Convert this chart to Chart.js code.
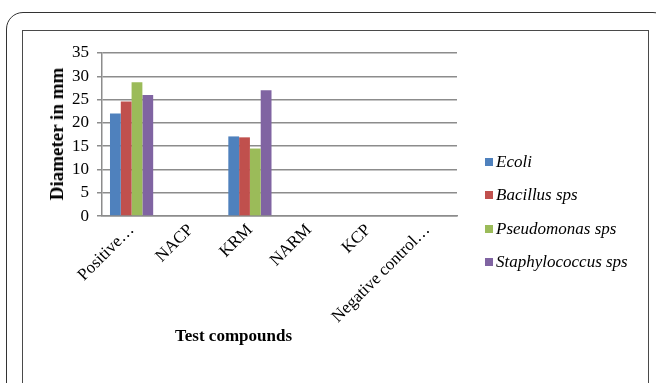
<!DOCTYPE html>
<html>
<head>
<meta charset="utf-8">
<script src="https://cdn.jsdelivr.net/npm/chart.js@4.4.0/dist/chart.umd.min.js"></script>
<style>
    html, body { margin: 0; padding: 0; background: #fff; width: 656px; height: 383px; overflow: hidden; }
    body { position: relative; font-family: "Liberation Serif", "Times New Roman", serif; }
    #frame { position: absolute; left: 6px; top: 12px; width: 664px; height: 420px; border: 1.5px solid #333; border-radius: 17px; box-sizing: border-box; }
    #panel { position: absolute; left: 22px; top: 30px; width: 627px; height: 400px; border: 1.5px solid #4a4a4a; box-sizing: border-box; }
    #chartBox { position: absolute; left: 23px; top: 31px; width: 624px; height: 352px; }
    #xTitle { position: absolute; left: 175px; top: 326px; font-weight: bold; font-size: 17px; color: #000; white-space: nowrap; }
    #yTitle { position: absolute; left: 57px; top: 134px; width: 0; height: 0; }
    #yTitle span { position: absolute; transform: translate(-50%, -50%) rotate(-90deg); font-weight: bold; font-size: 19px; color: #000; white-space: nowrap; }
    #legend { position: absolute; left: 485px; top: 145px; }
    .item { height: 33.5px; display: flex; align-items: center; font-style: italic; font-size: 17px; color: #000; white-space: nowrap; }
    .swatch { width: 8px; height: 8px; margin-right: 3px; }
</style>
</head>
<body>
<div id="frame"></div>
<div id="panel"></div>
<div id="chartBox"><canvas id="zoneChart" width="624" height="352"></canvas></div>
<div id="yTitle"><span>Diameter in mm</span></div>
<div id="xTitle">Test compounds</div>
<div id="legend"></div>

<script>
// Zone of inhibition per test compound
const compounds = ['Positive…', 'NACP', 'KRM', 'NARM', 'KCP', 'Negative control…'];
const ecoli = [22, 0, 17.1, 0, 0, 0];
const bacillus = [24.6, 0, 16.9, 0, 0, 0];
const pseudomonas = [28.7, 0, 14.5, 0, 0, 0];
const staphylococcus = [26, 0, 27, 0, 0, 0];

const seriesNames = ['Ecoli', 'Bacillus sps', 'Pseudomonas sps', 'Staphylococcus sps'];
const seriesColors = ['#4f81bd', '#c0504d', '#9bbb59', '#8064a2'];
const seriesValues = [ecoli, bacillus, pseudomonas, staphylococcus];

// y axis runs 0..35 in steps of 5
const yMin = 0;
const yMax = 35;
const yStep = 5;

const serif = "'Liberation Serif', 'Times New Roman', serif";
const gridGray = '#8c8c8c';

Chart.defaults.font.family = serif;
Chart.defaults.color = '#000';

function buildLegend() {
    const box = document.getElementById('legend');
    seriesNames.forEach((name, i) => {
        const row = document.createElement('div');
        row.className = 'item';
        const sw = document.createElement('span');
        sw.className = 'swatch';
        sw.style.background = seriesColors[i];
        row.appendChild(sw);
        row.appendChild(document.createTextNode(name));
        box.appendChild(row);
    });
}

function initZoneChart() {
    const ctx = document.getElementById('zoneChart').getContext('2d');
    window.zoneChart = new Chart(ctx, {
        type: 'bar',
        data: {
            labels: compounds,
            datasets: seriesNames.map((name, i) => ({
                label: name,
                data: seriesValues[i],
                backgroundColor: seriesColors[i],
                borderWidth: 0,
                barPercentage: 1,
                categoryPercentage: 0.73
            }))
        },
        options: {
            responsive: false,
            animation: false,
            layout: {
                padding: { left: 41, top: 22, right: 190, bottom: 52 }
            },
            plugins: {
                legend: { display: false },
                tooltip: { enabled: false }
            },
            scales: {
                y: {
                    min: yMin,
                    max: yMax,
                    ticks: {
                        stepSize: yStep,
                        autoSkip: false,
                        color: '#000',
                        padding: 8,
                        font: { family: serif, size: 17 }
                    },
                    grid: {
                        color: gridGray,
                        lineWidth: 1.5,
                        tickLength: 5
                    },
                    border: { color: gridGray, width: 1.5 }
                },
                x: {
                    // slanted labels may run under the y axis, so no extra room on the left
                    afterFit: scale => { scale.paddingLeft = 0; },
                    grid: { display: false, drawTicks: false },
                    border: { color: gridGray, width: 1.5 },
                    ticks: {
                        color: '#000',
                        autoSkip: false,
                        maxRotation: 45,
                        minRotation: 45,
                        padding: 4,
                        font: { family: serif, size: 17 }
                    }
                }
            }
        }
    });
}

buildLegend();
initZoneChart();
</script>
</body>
</html>
